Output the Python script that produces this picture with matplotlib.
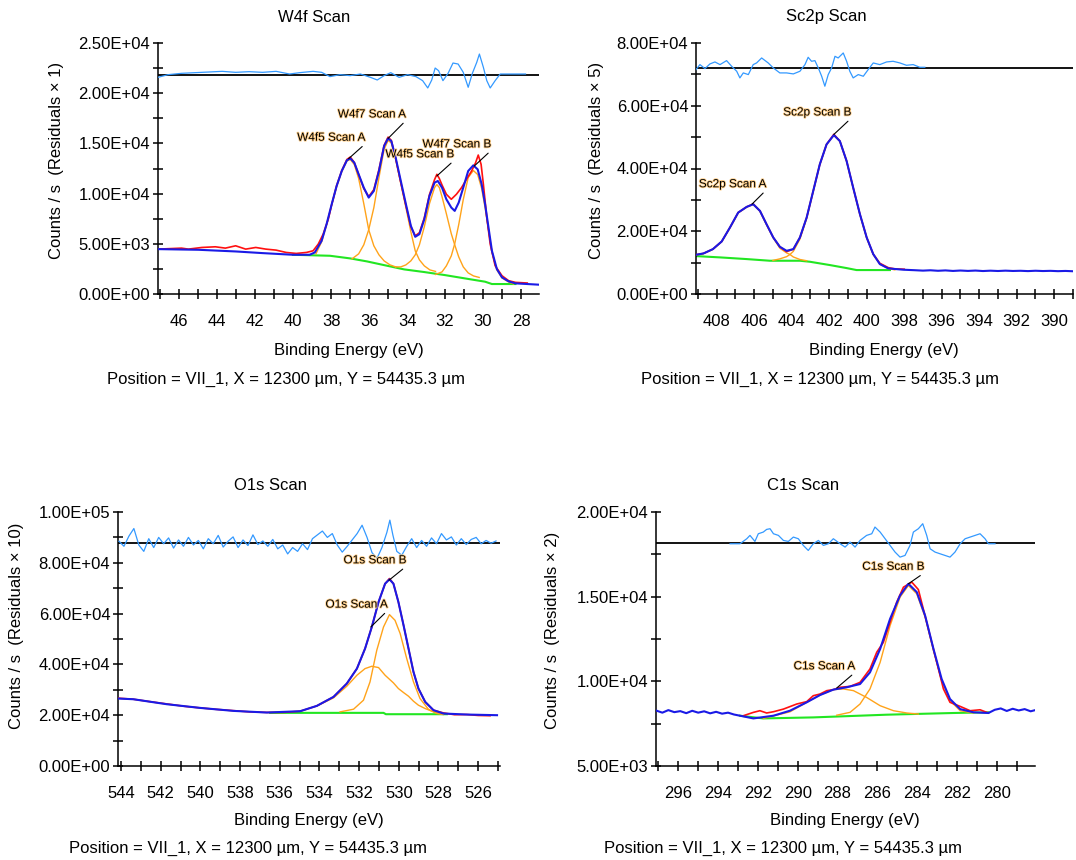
import matplotlib
matplotlib.use("Agg")
import matplotlib.pyplot as plt
import matplotlib.patheffects as pe
from matplotlib.ticker import MultipleLocator, FormatStrFormatter

plt.rcParams['font.family'] = ['Liberation Sans', 'DejaVu Sans']

# ---------------- W4f scan ----------------
W4F_RAW = [(47.12, 4470), (45.88, 4569), (45.52, 4470), (44.81, 4635), (44.10, 4702), (43.57, 4569),
           (43.03, 4801), (42.50, 4470), (41.97, 4635), (41.44, 4470), (40.90, 4370), (40.37, 4139),
           (39.84, 4040), (39.30, 4139), (38.95, 4304), (38.68, 4966), (38.42, 5960), (38.15, 7450),
           (37.97, 8900), (37.71, 10800), (37.44, 12300), (37.17, 13400), (36.99, 13641), (36.78, 13100),
           (36.55, 11900), (36.28, 10500), (36.02, 9700), (35.75, 10400), (35.48, 12400), (35.21, 14800),
           (35.00, 15628), (34.83, 15300), (34.60, 13500), (34.33, 11100), (34.06, 8800), (33.80, 6700),
           (33.57, 5800), (33.35, 6100), (33.09, 7600), (32.82, 9900), (32.55, 11400), (32.43, 11920),
           (32.30, 11500), (32.16, 10860), (31.93, 9933), (31.67, 9436), (31.40, 9933), (31.13, 10595),
           (30.87, 11423), (30.60, 12251), (30.39, 13078), (30.25, 13840), (30.10, 12913), (29.98, 10926),
           (29.80, 7615), (29.62, 4967), (29.36, 2814), (29.00, 1821), (28.65, 1324), (28.29, 1159),
           (27.67, 1093)]
W4F_FIT = [(47.12, 4470), (44.99, 4404), (43.03, 4238), (41.61, 4073), (40.01, 3907), (39.13, 3907),
           (38.86, 4139), (38.50, 5298), (38.24, 6953), (37.97, 8940), (37.71, 10761), (37.44, 12251),
           (37.17, 13310), (36.99, 13509), (36.78, 13078), (36.55, 11920), (36.28, 10595), (36.02, 9602),
           (35.75, 10264), (35.48, 12251), (35.21, 14734), (35.00, 15495), (34.83, 15231), (34.60, 13575),
           (34.33, 11257), (34.06, 8940), (33.80, 6788), (33.57, 5695), (33.35, 5960), (33.09, 7450),
           (32.82, 9767), (32.55, 11092), (32.38, 11257), (32.16, 10595), (31.93, 9436), (31.67, 8609),
           (31.49, 8278), (31.28, 9105), (31.04, 10595), (30.78, 12251), (30.51, 12814), (30.28, 12416),
           (30.07, 10926), (29.89, 8940), (29.71, 6622), (29.53, 4304), (29.27, 2483), (29.00, 1656),
           (28.65, 1258), (28.29, 1060), (27.05, 927)]
W4F_BG = [(40.01, 3907), (38.06, 3808), (36.99, 3543), (36.11, 3245), (35.22, 2881), (34.15, 2450),
          (33.09, 2185), (32.02, 1887), (30.96, 1556), (29.89, 1225), (29.53, 993), (28.29, 993)]
W4F_COMP1 = [(38.80, 4000), (38.50, 5200), (38.24, 6900), (37.97, 8900), (37.71, 10700), (37.44, 12200),
             (37.17, 13250), (36.99, 13400), (36.78, 12900), (36.55, 11500), (36.28, 9000), (36.02, 6400),
             (35.75, 4800), (35.48, 3900), (35.21, 3300), (34.90, 2900), (34.60, 2700)]
W4F_COMP2 = [(36.90, 3500), (36.55, 4000), (36.28, 4900), (36.02, 6400), (35.75, 8600), (35.48, 11600),
             (35.21, 14400), (35.00, 15300), (34.83, 15050), (34.60, 13400), (34.33, 11000), (34.06, 8600),
             (33.80, 6200), (33.57, 4300), (33.35, 3400), (33.09, 2800), (32.80, 2400), (32.50, 2250)]
W4F_COMP3 = [(34.60, 2700), (34.33, 2700), (34.06, 2900), (33.80, 3300), (33.57, 3900), (33.35, 4900),
             (33.09, 6700), (32.82, 9000), (32.55, 10600), (32.43, 10900), (32.30, 10600), (32.16, 9700),
             (31.93, 8000), (31.67, 6000), (31.49, 4900), (31.28, 3700), (31.04, 2700), (30.78, 2100),
             (30.50, 1800), (30.20, 1650)]
W4F_COMP4 = [(32.50, 1950), (32.16, 2200), (31.93, 2800), (31.67, 3800), (31.49, 5000), (31.28, 6900),
             (31.04, 9400), (30.78, 11600), (30.51, 12300), (30.28, 11900), (30.07, 10500), (29.89, 8600),
             (29.71, 6400), (29.53, 4200), (29.27, 2400), (29.00, 1600), (28.65, 1200), (28.40, 1000)]
W4F_RESID = [(47.12, 21580), (46.59, 21846), (45.88, 21980), (45.17, 22045), (44.45, 22110), (43.74, 22177),
             (43.03, 22078), (42.32, 22144), (41.61, 22078), (40.90, 22177), (40.19, 21912), (39.66, 22045),
             (38.95, 22177), (38.50, 22078), (38.06, 21650), (37.53, 21846), (37.00, 21747), (36.46, 21912),
             (35.93, 21580), (35.57, 21316), (35.21, 21747), (34.86, 22045), (34.42, 21580), (33.97, 21846),
             (33.53, 21650), (33.18, 21250), (32.91, 20522), (32.70, 21316), (32.52, 22508), (32.34, 22243),
             (32.11, 21250), (31.84, 21980), (31.58, 23005), (31.31, 22906), (31.04, 22078), (30.78, 20588),
             (30.56, 21980), (30.33, 23071), (30.19, 23900), (29.98, 22575), (29.80, 21250), (29.62, 20522),
             (29.36, 21250), (29.09, 21912), (27.76, 21912)]
W4F_ZERO = 21813
W4F_NAMES = ["W4f5 Scan A", "W4f7 Scan A", "W4f5 Scan B", "W4f7 Scan B"]
W4F_PEAKS = [(37.08, 13476), (35.00, 15495), (32.43, 11754), (30.46, 12747)]

# ---------------- Sc2p scan ----------------
SC2P_RAW = [(409.10, 12500), (408.70, 12930), (408.20, 14300), (407.73, 16740), (407.29, 21190),
            (406.85, 25960), (406.40, 27760), (406.05, 28700), (405.69, 26490), (405.34, 22250),
            (404.98, 18010), (404.63, 15050), (404.27, 13500), (403.91, 14300), (403.56, 18010),
            (403.20, 24370), (402.85, 32850), (402.50, 41320), (402.14, 47680), (401.75, 50900),
            (401.43, 48740), (401.07, 42380), (400.72, 33900), (400.36, 25430), (400.00, 18010),
            (399.65, 12710), (399.30, 9800), (398.85, 8400), (398.50, 8000), (398.00, 7900)]
SC2P_FIT = [(409.10, 12500), (408.70, 12930), (408.20, 14300), (407.73, 16740), (407.29, 21190),
            (406.85, 25960), (406.40, 27760), (406.05, 28610), (405.69, 26490), (405.34, 22250),
            (404.98, 18010), (404.63, 15050), (404.27, 13770), (403.91, 14300), (403.56, 18010),
            (403.20, 24370), (402.85, 32850), (402.50, 41320), (402.14, 47680), (401.75, 50650),
            (401.43, 48740), (401.07, 42380), (400.72, 33900), (400.36, 25430), (400.00, 18010),
            (399.65, 12710), (399.30, 9540), (398.85, 8160), (398.05, 7740), (397.50, 7600),
            (397.00, 7450), (396.60, 7560), (396.20, 7400), (395.80, 7520), (395.40, 7350),
            (395.00, 7480), (394.60, 7360), (394.20, 7470), (393.80, 7320), (393.40, 7430),
            (393.00, 7330), (392.60, 7440), (392.20, 7340), (391.80, 7400), (391.40, 7300),
            (391.00, 7410), (390.60, 7320), (390.20, 7380), (389.80, 7280), (389.40, 7350), (389.00, 7250)]
SC2P_BG = [(409.10, 12080), (407.80, 11660), (406.40, 11130), (405.16, 10600), (403.56, 10600),
           (403.03, 10280), (401.96, 9220), (401.07, 8260), (400.54, 7630), (398.76, 7630)]
SC2P_COMP1 = [(409.10, 12450), (408.70, 12880), (408.20, 14250), (407.73, 16680), (407.29, 21120),
              (406.85, 25880), (406.40, 27680), (406.05, 28530), (405.69, 26400), (405.34, 22100),
              (404.98, 17900), (404.63, 14600), (404.27, 13100), (404.09, 12600), (403.91, 11800),
              (403.56, 11000), (403.20, 10600)]
SC2P_COMP2 = [(405.00, 10700), (404.63, 11200), (404.27, 11900), (404.09, 12600), (403.91, 13600),
              (403.56, 17500), (403.20, 24100), (402.85, 32700), (402.50, 41200), (402.14, 47600),
              (401.75, 50600), (401.43, 48700), (401.07, 42300), (400.72, 33800), (400.36, 25300),
              (400.00, 17900), (399.65, 12600), (399.30, 9500), (398.85, 8100), (398.50, 7700)]
SC2P_RESID = [(409.10, 71523), (408.89, 73113), (408.62, 71841), (408.36, 73325), (408.09, 73960),
              (407.82, 73113), (407.47, 74384), (407.20, 72583), (406.93, 70993), (406.76, 68874),
              (406.58, 70464), (406.31, 69934), (406.05, 73113), (405.87, 73642), (405.60, 75232),
              (405.25, 73642), (404.98, 72053), (404.63, 70464), (404.27, 70464), (403.91, 70146),
              (403.56, 70993), (403.29, 73113), (403.12, 75444), (402.94, 74172), (402.76, 74384),
              (402.58, 72053), (402.40, 69404), (402.23, 66225), (402.05, 69934), (401.87, 72053),
              (401.69, 75762), (401.52, 75232), (401.25, 76821), (401.07, 74172), (400.90, 70993),
              (400.72, 68874), (400.45, 69934), (400.18, 69404), (399.92, 71523), (399.65, 73642),
              (399.30, 73113), (398.94, 73960), (398.59, 74172), (398.23, 73642), (397.88, 72900),
              (397.52, 73113), (397.17, 72265), (396.90, 72265)]
SC2P_ZERO = 72053
SC2P_NAMES = ["Sc2p Scan A", "Sc2p Scan B"]
SC2P_PEAKS = [(406.12, 28610), (401.75, 50860)]

# ---------------- O1s scan ----------------
O1S_RAW = [(544.14, 26700), (543.38, 26290), (542.50, 25300), (541.70, 24450), (540.80, 23500),
           (540.02, 22880), (539.20, 22300), (538.34, 21800), (537.50, 21300), (536.65, 21100),
           (535.80, 21100), (534.97, 21570), (534.13, 23670), (533.29, 27210), (532.62, 32450),
           (532.11, 38350), (531.70, 46220), (531.36, 54740), (531.02, 64570), (530.69, 71780),
           (530.47, 73800), (530.27, 71780), (530.02, 64570), (529.76, 55400), (529.51, 46220),
           (529.26, 37040), (529.01, 30490), (528.67, 25240), (528.25, 21970), (527.75, 20900),
           (527.20, 20200), (526.57, 20260), (526.00, 19900), (525.40, 19800)]
O1S_FIT = [(544.14, 26555), (543.38, 26290), (541.70, 24330), (540.02, 22880), (538.34, 21700),
           (536.65, 21050), (534.97, 21570), (534.13, 23670), (533.29, 27210), (532.62, 32450),
           (532.11, 38350), (531.70, 46220), (531.36, 54740), (531.02, 64570), (530.69, 71780),
           (530.47, 73490), (530.27, 71780), (530.02, 64570), (529.76, 55400), (529.51, 46220),
           (529.26, 37040), (529.01, 30490), (528.67, 25240), (528.25, 21970), (527.75, 20660),
           (526.57, 20260), (525.05, 20000)]
O1S_BG = [(536.48, 20920), (530.77, 20920), (530.65, 20390), (527.58, 20390)]
O1S_COMP1 = [(534.13, 23670), (533.29, 26820), (532.62, 31410), (532.11, 35730), (531.70, 38350),
             (531.36, 39270), (531.02, 38750), (530.69, 35730), (530.27, 32720), (530.02, 30490),
             (529.76, 28910), (529.51, 27470), (529.26, 25510), (529.01, 23930), (528.67, 22620),
             (528.25, 21310), (527.92, 20660)]
O1S_COMP2 = [(532.96, 21310), (532.28, 22360), (531.78, 25900), (531.45, 33110), (531.11, 45560),
             (530.77, 54740), (530.47, 59590), (530.19, 57360), (529.93, 52120), (529.60, 42290),
             (529.26, 33110), (528.93, 26555), (528.51, 22360), (528.09, 20660), (527.75, 20260)]
O1S_RESID_E = [544.10, 543.85, 543.60, 543.35, 543.10, 542.85, 542.60, 542.35, 542.10, 541.85,
               541.60, 541.35, 541.10, 540.85, 540.60, 540.35, 540.10, 539.85, 539.60, 539.35,
               539.10, 538.85, 538.60, 538.35, 538.10, 537.85, 537.60, 537.35, 537.10, 536.85,
               536.60, 536.35, 536.10, 535.85, 535.60, 535.35, 535.10, 534.85, 534.60, 534.35,
               534.10, 533.85, 533.60, 533.35, 533.10, 532.85, 532.60, 532.35, 532.10, 531.85,
               531.60, 531.35, 531.10, 530.85, 530.60, 530.45, 530.30, 530.10, 529.85, 529.60,
               529.35, 529.10, 528.85, 528.60, 528.35, 528.10, 527.85, 527.60, 527.35, 527.10,
               526.85, 526.60, 526.35, 526.10, 525.85, 525.60, 525.35, 525.10]
O1S_RESID = [88500, 86500, 90500, 93500, 87000, 84500, 89500, 86000, 90000, 87500,
             89800, 85800, 89000, 86500, 90000, 87000, 88800, 85500, 89500, 87500,
             90800, 86200, 88500, 90200, 86000, 89000, 86800, 91000, 87200, 88600,
             86500, 89200, 85500, 87000, 83500, 86000, 84500, 87500, 85200, 89500,
             91000, 92500, 90000, 91500, 87000, 84200, 86500, 89000, 91500, 94800,
             90000, 84000, 81700, 86000, 92000, 96800, 91000, 84500, 83000, 86500,
             89500, 86000, 88800, 86500, 89800, 87500, 91500, 89000, 90200, 87000,
             89500, 87200, 89200, 90000, 87500, 88800, 87700, 88600]
O1S_ZERO = 87910
O1S_NAMES = ["O1s Scan B", "O1s Scan A"]
O1S_PEAKS = [(530.50, 73100), (531.41, 54740)]

# ---------------- C1s scan ----------------
C1S_RAW = [(292.73, 7970), (292.23, 8166), (291.90, 8265), (291.56, 8130), (291.22, 8205), (290.72, 8360),
           (290.05, 8660), (289.55, 8800), (289.22, 9150), (288.88, 9250), (288.54, 9450), (288.21, 9510),
           (287.87, 9650), (287.37, 9700), (286.87, 9940), (286.37, 10730), (286.03, 11720), (285.70, 12300),
           (285.36, 13490), (285.03, 14670), (284.69, 15560), (284.27, 15860), (283.94, 15420),
           (283.52, 13490), (283.10, 11520), (282.68, 9550), (282.35, 8760), (281.84, 8520), (281.34, 8265),
           (280.84, 8320), (280.42, 8130)]
C1S_FIT = [(297.09, 8265), (296.80, 8150), (296.50, 8300), (296.20, 8180), (295.90, 8240), (295.60, 8120),
           (295.30, 8260), (295.00, 8150), (294.70, 8230), (294.40, 8110), (294.10, 8200), (293.80, 8090),
           (293.50, 8150), (293.20, 8040), (292.90, 7970), (292.23, 7810), (291.22, 7970), (290.39, 8265),
           (289.55, 8760), (288.88, 9190), (288.21, 9510), (287.54, 9650), (286.87, 9840), (286.37, 10530),
           (285.86, 11910), (285.36, 13690), (284.86, 15070), (284.44, 15760), (284.02, 15270),
           (283.60, 13880), (283.18, 11910), (282.77, 10140), (282.35, 8955), (281.84, 8360), (281.17, 8170),
           (280.42, 8130), (280.10, 8320), (279.80, 8400), (279.50, 8250), (279.20, 8380), (278.90, 8280),
           (278.60, 8360), (278.30, 8230), (278.07, 8300)]
C1S_BG = [(292.90, 7970), (291.73, 7810), (289.22, 7870), (285.53, 8030), (282.18, 8130), (280.42, 8170)]
C1S_COMP1 = [(291.73, 7810), (290.39, 8200), (289.55, 8760), (288.88, 9190), (288.21, 9510), (287.71, 9550),
             (287.20, 9450), (286.54, 9050), (285.86, 8560), (285.19, 8265), (284.52, 8130), (283.94, 8070)]
C1S_COMP2 = [(288.04, 8000), (287.37, 8170), (286.87, 8660), (286.37, 9550), (285.86, 11120), (285.36, 13290),
             (284.86, 14970), (284.44, 15660), (284.02, 15170), (283.60, 13790), (283.18, 11810),
             (282.77, 10040), (282.35, 8860), (281.84, 8265), (281.17, 8130)]
C1S_RESID = [(293.40, 18125), (292.90, 18125), (292.56, 18421), (292.40, 18618), (292.15, 18263),
             (291.98, 18716), (291.73, 18815), (291.56, 18973), (291.39, 19012), (291.22, 18716),
             (290.97, 18618), (290.72, 18322), (290.47, 18263), (290.22, 18519), (289.97, 18421),
             (289.72, 18026), (289.47, 17730), (289.22, 18125), (288.96, 18322), (288.71, 18026),
             (288.46, 18125), (288.21, 18421), (287.87, 18125), (287.62, 17928), (287.37, 18223),
             (287.12, 17928), (286.87, 18322), (286.54, 18618), (286.28, 18716), (286.12, 19111),
             (285.86, 18815), (285.61, 18421), (285.36, 18026), (285.11, 17632), (284.86, 17336),
             (284.61, 17435), (284.36, 18026), (284.19, 18815), (283.94, 19012), (283.72, 19308),
             (283.52, 18618), (283.35, 17829), (283.10, 17632), (282.85, 17533), (282.60, 17435),
             (282.35, 17336), (282.10, 17632), (281.84, 18125), (281.59, 18421), (281.34, 18519),
             (281.09, 18618), (280.84, 18716), (280.59, 18421), (280.42, 18125), (280.09, 18125)]
C1S_ZERO = 18184
C1S_NAMES = ["C1s Scan B", "C1s Scan A"]
C1S_PEAKS = [(284.44, 15760), (288.04, 9606)]

POSITION = "Position = VII_1, X = 12300 \u00b5m, Y = 54435.3 \u00b5m"

W, H = 1076, 860


def fx(px):
    return px / W


def fy(py):
    return 1 - py / H


def xy(points):
    return [p[0] for p in points], [p[1] for p in points]


def draw_scan(box, xlim, ylim, ymajor, raw, fit, bg, comps, resid, zero, names, peaks, label_at):
    left, top, right, bottom = box
    ax = fig.add_axes([fx(left), fy(bottom), fx(right - left), (bottom - top) / H])
    ax.set_xlim(*xlim)
    ax.set_ylim(*ylim)

    ax.plot(*xy(bg), color='#22e622', lw=1.5, zorder=2)
    for comp in comps:
        ax.plot(*xy(comp), color='#ffa31a', lw=1.0, zorder=3)
    ax.plot(*xy(raw), color='#ff1010', lw=1.2, zorder=4)
    ax.plot(*xy(fit), color='#1a1ae6', lw=1.5, zorder=5)
    ax.axhline(zero, color='black', lw=1.3, zorder=2)
    ax.plot(*xy(resid), color='#3399ff', lw=0.9, zorder=3)

    for name, peak, at in zip(names, peaks, label_at):
        ax.annotate(name, xy=peak, xytext=at, ha='right', va='bottom', fontsize=8.5,
                    path_effects=[pe.withStroke(linewidth=1.2, foreground='#ffcf8a')],
                    arrowprops=dict(arrowstyle='-', color='black', lw=0.8,
                                    shrinkA=0, shrinkB=0, relpos=(1.0, 0.0)), zorder=6)

    for s in ('top', 'right'):
        ax.spines[s].set_visible(False)
    for s in ('left', 'bottom'):
        ax.spines[s].set_linewidth(1.1)
    ax.xaxis.set_major_locator(MultipleLocator(2))
    ax.xaxis.set_minor_locator(MultipleLocator(1))
    ax.yaxis.set_major_locator(MultipleLocator(ymajor))
    ax.yaxis.set_minor_locator(MultipleLocator(ymajor / 2))
    ax.xaxis.set_major_formatter(FormatStrFormatter('%d'))
    ax.yaxis.set_major_formatter(FormatStrFormatter('%.2E'))
    ax.tick_params(which='both', direction='inout', length=7, width=1.1, labelsize=12)
    ax.tick_params(axis='x', which='major', pad=11)
    ax.tick_params(axis='y', which='major', pad=2)
    ax.set_facecolor('none')
    return ax


fig = plt.figure(figsize=(W / 100, H / 100), dpi=100)

draw_scan((158, 43, 539, 294), (47.12, 27.05), (0, 25000), 5000,
          W4F_RAW, W4F_FIT, W4F_BG, [W4F_COMP1, W4F_COMP2, W4F_COMP3, W4F_COMP4],
          W4F_RESID, W4F_ZERO, W4F_NAMES, W4F_PEAKS,
          [(36.20, 14966), (34.06, 17283), (31.52, 13310), (29.57, 14304)])
draw_scan((696, 43, 1073, 294), (409.1, 389.0), (0, 80000), 20000,
          SC2P_RAW, SC2P_FIT, SC2P_BG, [SC2P_COMP1, SC2P_COMP2],
          SC2P_RESID, SC2P_ZERO, SC2P_NAMES, SC2P_PEAKS,
          [(405.37, 33060), (400.84, 55950)])
draw_scan((118, 512, 500, 766), (544.15, 524.9), (0, 100000), 20000,
          O1S_RAW, O1S_FIT, O1S_BG, [O1S_COMP1, O1S_COMP2],
          list(zip(O1S_RESID_E, O1S_RESID)), O1S_ZERO, O1S_NAMES, O1S_PEAKS,
          [(529.63, 78600), (530.57, 61170)])
draw_scan((656, 512, 1035, 766), (297.12, 278.08), (5000, 20000), 5000,
          C1S_RAW, C1S_FIT, C1S_BG, [C1S_COMP1, C1S_COMP2],
          C1S_RESID, C1S_ZERO, C1S_NAMES, C1S_PEAKS,
          [(283.64, 16410), (287.12, 10530)])

# titles, axis labels and position captions
for title, cx, ty in [("W4f Scan", 314, 17), ("Sc2p Scan", 826, 17),
                      ("O1s Scan", 271, 486), ("C1s Scan", 803, 486)]:
    fig.text(fx(cx), fy(ty), title, ha='center', va='center', fontsize=12)
for label, cx, cy in [("Counts / s  (Residuals \u00d7 1)", 57, 160),
                      ("Counts / s  (Residuals \u00d7 5)", 596, 160),
                      ("Counts / s  (Residuals \u00d7 10)", 17, 626),
                      ("Counts / s  (Residuals \u00d7 2)", 552, 630)]:
    fig.text(fx(cx), fy(cy), label, ha='center', va='center', rotation=90, fontsize=12)
for cx, cy in [(349, 350), (884, 350), (309, 820), (845, 820)]:
    fig.text(fx(cx), fy(cy), "Binding Energy (eV)", ha='center', va='center', fontsize=12)
for cx, cy in [(286, 379), (820, 379), (248, 848), (783, 848)]:
    fig.text(fx(cx), fy(cy), POSITION, ha='center', va='center', fontsize=12)

fig.savefig("out.png", dpi=100)
